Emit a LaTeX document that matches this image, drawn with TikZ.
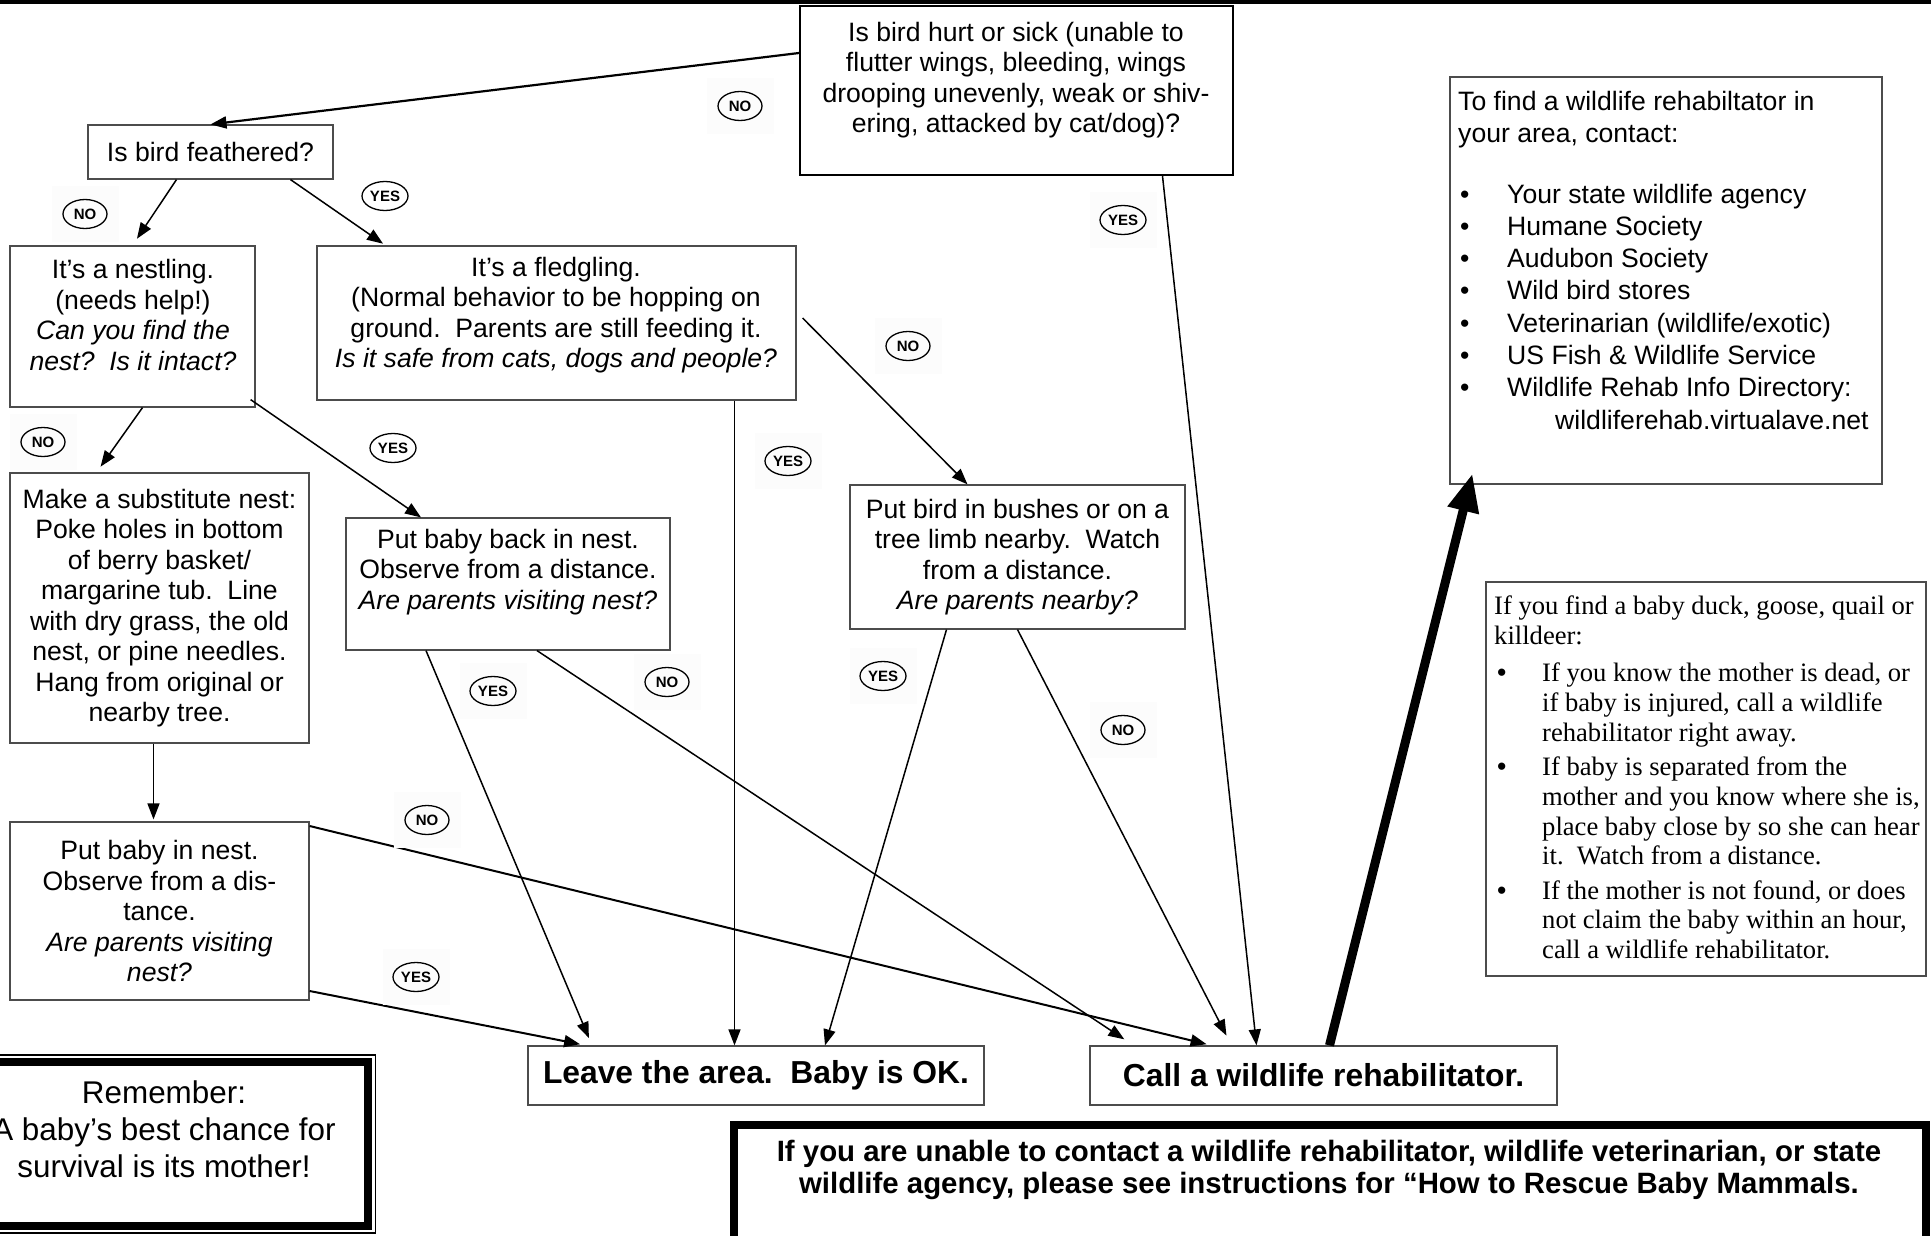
\documentclass[tikz,border=0pt]{standalone}
\usepackage{fontspec}
\setmainfont{Liberation Sans}
\newfontfamily\duckserif{Liberation Serif}
\usetikzlibrary{arrows.meta,calc}

\newcommand\fcBox{\fontsize{26.6pt}{30.5pt}\selectfont}
\newcommand\fcInfo{\fontsize{26.6pt}{32.3pt}\selectfont}
\newcommand\fcEnd{\fontsize{31.8pt}{36pt}\selectfont\bfseries}
\newcommand\fcNote{\fontsize{29.4pt}{32pt}\selectfont\bfseries}
\newcommand\fcMemo{\fontsize{31.4pt}{37pt}\selectfont}
\newcommand\fcDuck{\duckserif\fontsize{26.6pt}{29.8pt}\selectfont}
\newcommand\fcBadge{\fontsize{15pt}{16pt}\selectfont\bfseries}
\newcommand\bul{\makebox[49pt][l]{\hspace{2pt}\textbullet}}
\newcommand\dbul{\makebox[48pt][l]{\hspace{3pt}{\normalfont\textbullet}}}
\newcommand\dind{\hspace*{48pt}}

\tikzset{
  box/.style={rectangle, draw=black!70, line width=1.2pt, inner sep=0pt, align=center, font=\fcBox},
  txt/.style={inner sep=0pt, align=center, font=\fcBox},
  arr/.style={-{Triangle[length=16pt,width=12pt]}, line width=1.5pt},
  badge/.style={rectangle, fill=black!1, minimum width=67pt, minimum height=56pt, inner sep=0pt, font=\fcBadge,
    path picture={\draw[line width=1.3pt] (path picture bounding box.center) ellipse [x radius=#1, y radius=14.5pt];}},
  badge/.default=22pt
}

\begin{document}
\begin{tikzpicture}[x=1pt,y=-1pt]
\useasboundingbox (0,0) rectangle (1931,1236);
\draw[line width=4.5pt] (0,2) -- (1931,2);

% questions
\node[box, draw=black, line width=2pt, minimum width=433pt, minimum height=169pt] (hurt) at (1016.5,90.5) {};
\node[txt] (hurt-t) at (1016,80) {Is bird hurt or sick (unable to\\flutter wings, bleeding, wings\\drooping unevenly, weak or shiv-\\ering, attacked by cat/dog)?};
\node[box, minimum width=245pt, minimum height=54pt] (feathered) at (210.5,152) {Is bird feathered?};
\node[box, minimum width=245pt, minimum height=161pt] (nestling) at (132.5,326.5) {};
\node[txt] (nestling-t) at (133,315) {It’s a nestling.\\(needs help!)\\\textit{Can you find the}\\\textit{nest?\ \ Is it intact?}};
\node[box, minimum width=479pt, minimum height=154pt] (fledgling) at (556.5,323) {};
\node[txt] (fledgling-t) at (556,315) {It’s a fledgling.\\(Normal behavior to be hopping on\\ground.\ \ Parents are still feeding it.\\\textit{Is it safe from cats, dogs and people?}};
\node[box, minimum width=299pt, minimum height=270pt] (subnest) at (159.5,608) {Make a substitute nest:\\Poke holes in bottom\\of berry basket/\\margarine tub.\ \ Line\\with dry grass, the old\\nest, or pine needles.\\Hang from original or\\nearby tree.};
\node[box, minimum width=324pt, minimum height=132pt] (backnest) at (508,584) {};
\node[txt] (backnest-t) at (508,572) {Put baby back in nest.\\Observe from a distance.\\\textit{Are parents visiting nest?}};
\node[box, minimum width=335pt, minimum height=144pt] (bushes) at (1017.5,557) {Put bird in bushes or on a\\tree limb nearby.\ \ Watch\\from a distance.\\\textit{Are parents nearby?}};
\node[box, minimum width=299pt, minimum height=178pt] (innest) at (159.5,911) {Put baby in nest.\\Observe from a dis-\\tance.\\\textit{Are parents visiting}\\\textit{nest?}};

% outcomes
\node[box, font=\fcEnd, minimum width=456pt, minimum height=59pt] (leave) at (756,1075.5) {Leave the area.\ \ Baby is OK.};
\node[box, font=\fcEnd, minimum width=467pt, minimum height=59pt] (call) at (1323.5,1075.5) {Call a wildlife rehabilitator.};

% side notes
\node[box, minimum width=432pt, minimum height=407pt] (info) at (1666,280.5) {};
\node[txt, font=\fcInfo, align=left, anchor=north west] (info-t) at (1458,91) {To find a wildlife rehabiltator in\\your area, contact:\\[28pt]
\bul Your state wildlife agency\\
\bul Humane Society\\
\bul Audubon Society\\
\bul Wild bird stores\\
\bul Veterinarian (wildlife/exotic)\\
\bul US Fish \& Wildlife Service\\
\bul Wildlife Rehab Info Directory:\\
\hspace*{97pt}wildliferehab.virtualave.net};
\node[box, minimum width=440pt, minimum height=394pt] (duck) at (1706,779) {};
\node[txt, font=\fcDuck, align=left, anchor=north west] (duck-t) at (1494,596) {If you find a baby duck, goose, quail or\\
killdeer:\\[7pt]
\dbul If you know the mother is dead, or\\
\dind if baby is injured, call a wildlife\\
\dind rehabilitator right away.\\[4.5pt]
\dbul If baby is separated from the\\
\dind mother and you know where she is,\\
\dind place baby close by so she can hear\\
\dind it.\ \ Watch from a distance.\\[4.5pt]
\dbul If the mother is not found, or does\\
\dind not claim the baby within an hour,\\
\dind call a wildlife rehabilitator.};

\node[rectangle, draw, line width=8pt, minimum width=408pt, minimum height=164pt] (memo) at (164,1144) {};
\draw[line width=1.2pt] ([shift={(-3.5pt,3pt)}]memo.north west) rectangle ([shift={(3.5pt,-3pt)}]memo.south east);
\node[txt, font=\fcMemo] (memo-t) at (164,1129) {Remember:\\A baby’s best chance for\\survival is its mother!};
\node[rectangle, draw, line width=8pt, minimum width=1192pt, minimum height=115pt] (note) at (1330,1182.5) {};
\node[txt, font=\fcNote] (note-t) at (1329,1170) {If you are unable to contact a wildlife rehabilitator, wildlife veterinarian, or state\\wildlife agency, please see instructions for “How to Rescue Baby Mammals.};

% connectors
\draw[arr, line width=2.2pt] ([yshift=37.5pt]hurt.west) -- (feathered.north);
\draw[arr, shorten >=8pt] ([xshift=-34pt]feathered.south) -- (nestling.north);
\draw[arr, shorten >=3pt] ([xshift=80pt]feathered.south) -- ([xshift=-171pt]fledgling.north);
\draw[arr, shorten >=7pt] ([xshift=10pt]nestling.south) -- ([xshift=-63pt]subnest.north);
\draw[arr] ([xshift=-5pt,yshift=8pt]nestling.south east) -- ([xshift=-87pt]backnest.north);
\draw[arr] ([xshift=178pt]fledgling.south) -- ([xshift=178pt]fledgling.south |- leave.north);
\draw[arr] ([xshift=6pt,yshift=5pt]fledgling.east) -- ([xshift=-50pt]bushes.north);
\draw[arr] ([xshift=146pt]hurt.south) -- ([xshift=-67pt]call.north);
\draw[arr, shorten >=2pt] ([xshift=-6pt]subnest.south) -- ([xshift=-6pt]innest.north);
\draw[arr, shorten >=8pt] ([xshift=-82pt]backnest.south) -- ([xshift=-164pt]leave.north);
\draw[arr, shorten >=11pt] ([xshift=29pt]backnest.south) -- ([xshift=-190pt]call.north);
\draw[arr] ([xshift=-71pt]bushes.south) -- ([xshift=69pt]leave.north);
\draw[arr, shorten >=11pt] (bushes.south) -- ([xshift=-92pt]call.north);
\draw[arr, line width=2pt, shorten >=6pt] ([yshift=-80pt]innest.east) -- ([xshift=-170pt]leave.north);
\draw[arr, line width=2pt, shorten >=5pt] ([yshift=85pt]innest.east) -- ([xshift=-112pt]call.north);
\draw[line width=9pt, -{Triangle[length=38pt,width=30pt]}] ([xshift=6pt]call.north) -- ([xshift=23pt,yshift=11pt]info.south west);

% answer badges
\node[badge] (no1) at (740,106) {NO};
\node[badge] (no2) at (85,214) {NO};
\node[badge=23pt, fill=none] (yes1) at (385,196) {YES};
\node[badge=23pt] (yes2) at (1123,220) {YES};
\node[badge] (no3) at (908,346) {NO};
\node[badge] (no4) at (43,442) {NO};
\node[badge=23pt, fill=none] (yes3) at (393,448) {YES};
\node[badge=23pt] (yes4) at (788,461) {YES};
\node[badge=23pt] (yes5) at (493,691) {YES};
\node[badge] (no5) at (667,682) {NO};
\node[badge=23pt] (yes6) at (883,676) {YES};
\node[badge] (no6) at (1123,730) {NO};
\node[badge] (no7) at (427,820) {NO};
\node[badge=23pt] (yes7) at (416,977) {YES};
\end{tikzpicture}
\end{document}
